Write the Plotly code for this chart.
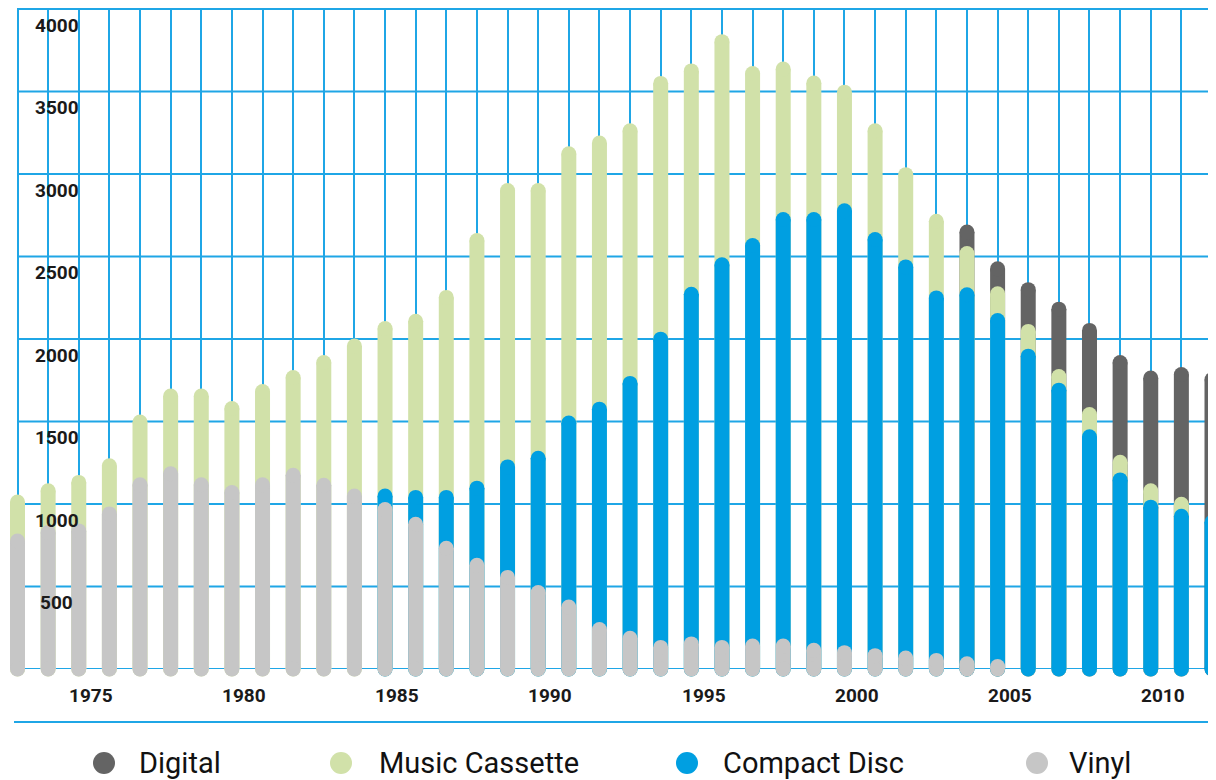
import plotly.graph_objects as go

# ---------------- data (units) ----------------
years = list(range(1973, 2013))
vinyl = [776, 827, 837, 940, 1117, 1183, 1117, 1070, 1117, 1174,
         1114, 1048, 966, 877, 732, 629, 555, 463, 376, 239,
         186, 131, 152, 131, 139, 139, 113, 99, 81, 66,
         52, 32, 15, 0, 0, 0, 0, 0, 0, 0]
compact_disc = [0, 0, 0, 0, 0, 0, 0, 0, 0, 0,
                0, 0, 82, 163, 308, 467, 670, 814, 1115, 1336,
                1545, 1868, 2119, 2319, 2427, 2585, 2611, 2678, 2522, 2371,
                2197, 2236, 2097, 1896, 1690, 1407, 1146, 981, 926, 889]
music_cassette = [236, 253, 294, 292, 380, 472, 538, 509, 565, 592,
                  743, 909, 1015, 1067, 1212, 1501, 1675, 1623, 1631, 1613,
                  1531, 1550, 1354, 1352, 1043, 912, 827, 719, 659, 559,
                  465, 250, 162, 150, 82, 135, 107, 99, 72, 0]
digital = [0] * 31 + [130, 152, 253, 409, 510, 604, 684, 787, 865]

y_ticks = [0, 500, 1000, 1500, 2000, 2500, 3000, 3500, 4000]
x_label_years = [1975, 1980, 1985, 1990, 1995, 2000, 2005, 2010]

legend_names = ["Digital", "Music Cassette", "Compact Disc", "Vinyl"]

# ---------------- style ----------------
C_DIGITAL = "#646464"
C_MC = "#d1e1a9"
C_CD = "#009fe1"
C_VINYL = "#c6c6c6"
C_GRID = "#1fa6e6"
legend_colors = [C_DIGITAL, C_MC, C_CD, C_VINYL]

W, H = 1216, 780
OFF = 8  # page body margin: figure starts 8px in from the window corner
X_FIRST_PX, X_LAST_PX = 17.5 - OFF, 1212.0 - OFF
ppy = (X_LAST_PX - X_FIRST_PX) / (len(years) - 1)
x_range = [years[0] - X_FIRST_PX / ppy, years[0] + (W - X_FIRST_PX) / ppy]
Y_ZERO_PX = 669 - OFF
PX_PER_UNIT = 82.5 / 500
y_top_val = Y_ZERO_PX / PX_PER_UNIT
y_domain = [(H - Y_ZERO_PX) / H, 1.0]

# cumulative stacks
cum_v = vinyl
cum_cd = [a + b for a, b in zip(cum_v, compact_disc)]
cum_mc = [a + b for a, b in zip(cum_cd, music_cassette)]
cum_dg = [a + b for a, b in zip(cum_mc, digital)]


def pill_trace(color, seg, top):
    xs, ys = [], []
    for yr, s, t in zip(years, seg, top):
        if s > 0:
            xs += [yr, yr, None]
            ys += [0, t, None]
    return go.Scatter(
        x=xs, y=ys, mode="lines+markers",
        line=dict(color=color, width=15),
        marker=dict(color=color, size=15, line=dict(width=0)),
        cliponaxis=False, hoverinfo="skip", showlegend=False,
    )


fig = go.Figure()
fig.add_trace(pill_trace(C_DIGITAL, digital, cum_dg))
fig.add_trace(pill_trace(C_MC, music_cassette, cum_mc))
fig.add_trace(pill_trace(C_CD, compact_disc, cum_cd))
fig.add_trace(pill_trace(C_VINYL, vinyl, cum_v))

shapes = []
for v in y_ticks:
    shapes.append(dict(type="line", xref="x", yref="y", x0=years[0], x1=x_range[1],
                       y0=v, y1=v, line=dict(color=C_GRID, width=2), layer="below"))
# separator line above legend
SEP_Y = 722 - OFF
shapes.append(dict(type="line", xref="paper", yref="paper", x0=(14 - OFF) / W, x1=(1212 - OFF) / W,
                   y0=(H - SEP_Y) / H, y1=(H - SEP_Y) / H, line=dict(color=C_GRID, width=2)))

annotations = []
for v in y_ticks[1:]:
    annotations.append(dict(x=(56.5 - OFF) / W, xref="paper", y=v, yref="y", yshift=-16,
                            text=str(v), showarrow=False, xanchor="center", yanchor="middle",
                            font=dict(family="Roboto", size=19, color="#1a1a1a", weight=700)))
for yr in x_label_years:
    annotations.append(dict(x=yr + 0.4, xref="x", y=0, yref="y", yshift=-26,
                            text=str(yr), showarrow=False, xanchor="center", yanchor="middle",
                            font=dict(family="Roboto", size=19, color="#1a1a1a", weight=700)))

circle_x = [104, 341, 687, 1037]
text_x = [137, 377, 721, 1067]
LEG_Y = 763 - OFF
for name, col, cx, tx in zip(legend_names, legend_colors, circle_x, text_x):
    r = 11
    cx -= OFF
    tx -= OFF
    shapes.append(dict(type="circle", xref="paper", yref="paper",
                       x0=(cx - r) / W, x1=(cx + r) / W,
                       y0=(H - LEG_Y - r) / H, y1=(H - LEG_Y + r) / H,
                       fillcolor=col, line=dict(width=0)))
    annotations.append(dict(x=tx / W, xref="paper", y=(H - LEG_Y) / H, yref="paper",
                            text=name, showarrow=False, xanchor="left", yanchor="middle",
                            font=dict(family="Roboto", size=29, color="#111111")))

fig.update_layout(
    width=W, height=H,
    margin=dict(l=0, r=0, t=0, b=0, pad=0),
    paper_bgcolor="white", plot_bgcolor="white",
    showlegend=False,
    shapes=shapes, annotations=annotations,
    xaxis=dict(range=x_range, domain=[0, 1], tick0=years[0], dtick=1,
               showgrid=True, gridcolor=C_GRID, gridwidth=2,
               showticklabels=False, zeroline=False, showline=False, ticks=""),
    yaxis=dict(range=[0, y_top_val], domain=y_domain, showgrid=False,
               showticklabels=False, zeroline=False, showline=False, ticks=""),
)

fig.write_html("out.html")
